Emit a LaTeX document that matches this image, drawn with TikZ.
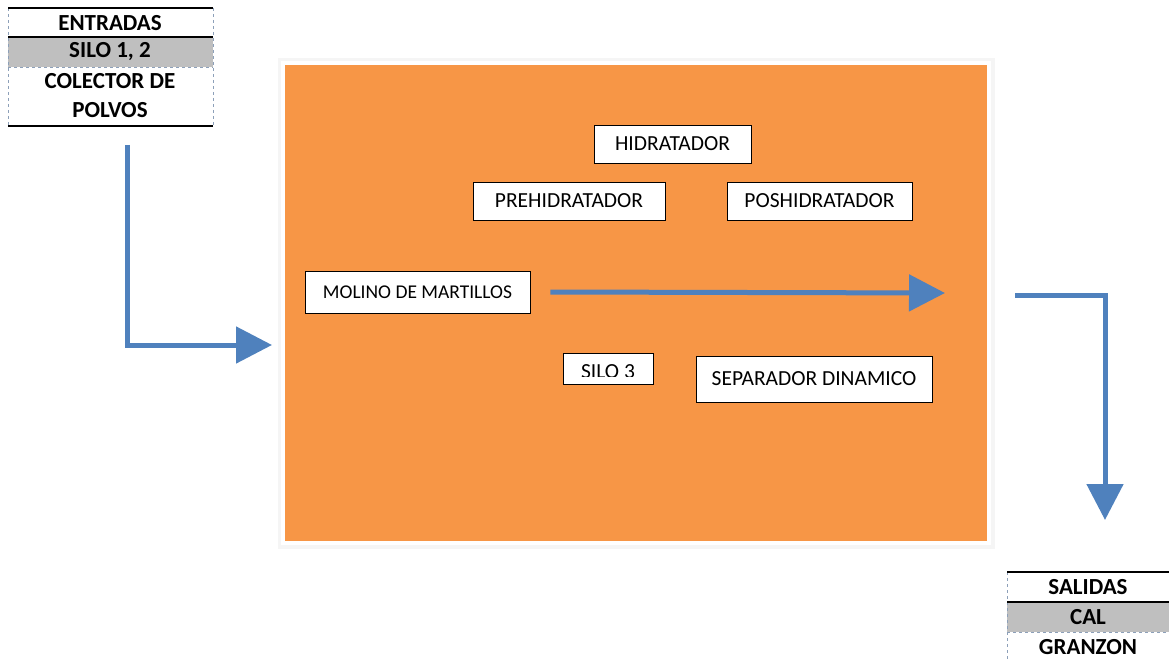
\documentclass[tikz,border=0pt]{standalone}
\usepackage{fontspec}
\setmainfont{Carlito}
\usetikzlibrary{positioning}
\usetikzlibrary{arrows.meta}
\definecolor{naranja}{RGB}{247,150,70}
\definecolor{azul}{RGB}{79,129,189}
\definecolor{gris}{RGB}{191,191,191}
\definecolor{borde}{RGB}{141,160,185}

\tikzset{
    caja/.style={draw=black, thick, fill=white, inner sep=0pt, font=\fontsize{21.5}{24}\selectfont},
    celda/.style={inner sep=0pt, font=\fontsize{23}{27}\selectfont\bfseries},
    flecha/.style={azul, line width=5pt, -{Triangle[length=36pt, width=36pt]}},
}

\begin{document}
\begin{tikzpicture}[x=1pt, y=-1pt]
    \useasboundingbox (0,0) rectangle (1169,660);

    % bloque central
    \fill[gray!8] (278,58) rectangle (995,549);
    \fill[white] (281,61) rectangle (991,545);
    \fill[naranja] (285,65) rectangle (987,541);

    % entradas
    \fill[gris] (8,37) rectangle (213,67);
    \draw[borde, dashed, thin] (8,8) -- (8,126) (213,8) -- (213,126) (8,67) -- (213,67);
    \draw[black, line width=1.5pt] (8,8) -- (213,8);
    \draw[black, line width=1.2pt] (8,37) -- (213,37);
    \draw[black, line width=1.2pt] (8,126) -- (213,126);
    \node[celda] (entradas) at (110,23) {ENTRADAS};
    \node[celda] (silos) at (110,52) {SILO 1, 2};
    \node[celda, align=center] (colector) at (110,96) {COLECTOR DE\\[2pt]POLVOS};

    % salidas
    \fill[gris] (1007,602) rectangle (1169,632);
    \draw[borde, dashed, thin] (1007,572) -- (1007,660) (1007,632) -- (1169,632);
    \draw[black, line width=1.5pt] (1007,572) -- (1169,572);
    \draw[black, line width=1.2pt] (1007,602) -- (1169,602);
    \node[celda] (salidas) at (1088,587) {SALIDAS};
    \node[celda] (cal) at (1088,617) {CAL};
    \node[celda] (granzon) at (1088,647) {GRANZON};

    % equipos
    \node[caja, minimum width=157pt, minimum height=38pt] (hidratador) at (672.5,144) {HIDRATADOR};
    \node[caja, minimum width=192pt, minimum height=38pt] (prehidratador) at (569,201) {PREHIDRATADOR};
    \node[caja, minimum width=185pt, minimum height=38pt] (poshidratador) at (819.5,201) {POSHIDRATADOR};
    \node[caja, minimum width=225pt, minimum height=42pt, font=\fontsize{19.5}{22}\selectfont] (molino) at (417.5,292) {MOLINO DE MARTILLOS};
    \node[caja, minimum width=90pt, minimum height=31pt] (silo3) at (608,368.5) {};
    \begin{scope}
        \clip (silo3.north west) rectangle ([yshift=8pt]silo3.south east);
        \node[anchor=north, inner sep=0pt, font=\fontsize{21.5}{24}\selectfont] at ([yshift=-12pt]silo3.north) {SILO 3};
    \end{scope}
    \node[caja, minimum width=236pt, minimum height=46pt] (separador) at (814,379) {SEPARADOR DINAMICO};

    % flechas
    \coordinate (in0) at (127,145);
    \coordinate (in1) at (272,345);
    \coordinate (mid1) at (945,293);
    \coordinate (out0) at (1015,295);
    \coordinate (out1) at (1105,520);
    \draw[flecha] (in0) |- (in1);
    \draw[flecha] ([xshift=20pt]molino.east) -- (mid1);
    \draw[flecha] (out0) -| (out1);
\end{tikzpicture}
\end{document}
